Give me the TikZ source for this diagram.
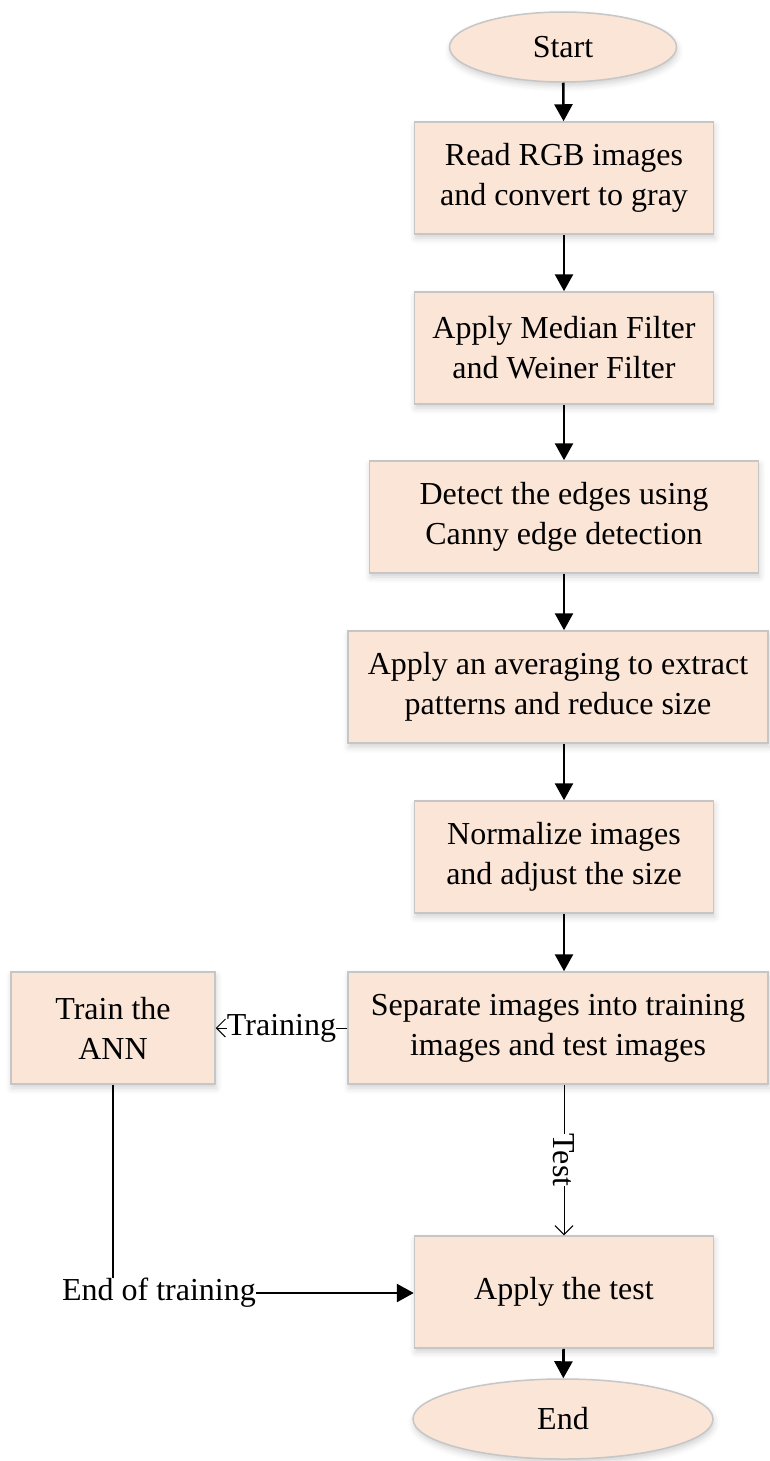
\documentclass[tikz,border=0pt]{standalone}
\usepackage{fontspec}
\setmainfont{Liberation Serif}
\usetikzlibrary{shapes.geometric, arrows.meta, shadows.blur}
\definecolor{peach}{HTML}{FBE5D6}
\definecolor{edgegray}{HTML}{C6C6C6}

\begin{document}
\begin{tikzpicture}[x=1pt, y=-1pt,
  every node/.style={font=\fontsize{32}{40}\selectfont},
  softshadow/.style={blur shadow={shadow xshift=1pt, shadow yshift=-4pt,
      shadow blur radius=6pt, shadow opacity=18}},
  stepbox/.style={draw=edgegray, line width=1.5pt, fill=peach, align=center,
      minimum height=112pt, inner sep=0pt, softshadow},
  term/.style={ellipse, draw=edgegray, line width=1.5pt, fill=peach,
      inner sep=0pt, softshadow},
  flow/.style={line width=2.6pt, -{Triangle[length=17pt, width=18pt]}},
  branch/.style={line width=1pt, -{Straight Barb[length=9pt, width=18pt]}},
  tag/.style={fill=white, inner sep=0pt},
]
\useasboundingbox (0,0) rectangle (769,1461);

% terminals and processing steps
\node[term, minimum width=227pt, minimum height=70pt] (start) at (563,47) {Start};
\node[stepbox, minimum width=299pt] (read)  at (564,178)  {Read RGB images\\and convert to gray};
\node[stepbox, minimum width=299pt] (filt)  at (564,348)  {Apply Median Filter\\and Weiner Filter};
\node[stepbox, minimum width=389pt] (edge)  at (564,517)  {Detect the edges using\\Canny edge detection};
\node[stepbox, minimum width=420pt] (avg)   at (558,687)  {Apply an averaging to extract\\patterns and reduce size};
\node[stepbox, minimum width=299pt] (norm)  at (564,857)  {Normalize images\\and adjust the size};
\node[stepbox, minimum width=420pt] (split) at (558,1028) {Separate images into training\\images and test images};
\node[stepbox, minimum width=204pt] (train) at (113,1028) {Train the\\ANN};
\node[stepbox, minimum width=299pt] (test)  at (564,1292) {Apply the test};
\node[term, minimum width=300pt, minimum height=80pt] (stop) at (563,1419) {End};
\node[inner sep=0pt] (eot) at (159,1293) {End of training};

% main flow
\draw[flow] (start) -- (read);
\draw[flow] (read) -- (filt);
\draw[flow] (filt) -- (edge);
\draw[flow] (edge.south) -- (edge.south |- avg.north);
\draw[flow] (avg.south -| norm) -- (norm);
\draw[flow] (norm.south) -- (norm.south |- split.north);
\draw[branch] (split.south -| test) -- node[tag, rotate=-90] {Test} (test);
\draw[flow] (test) -- (stop);

% training branch
\draw[branch] (split) -- node[tag] {Training} (train);
\draw[line width=2.6pt] (train.south) -- (train.south |- eot.north);
\draw[flow] (eot.east) -- (test.west |- eot.east);
\end{tikzpicture}
\end{document}
